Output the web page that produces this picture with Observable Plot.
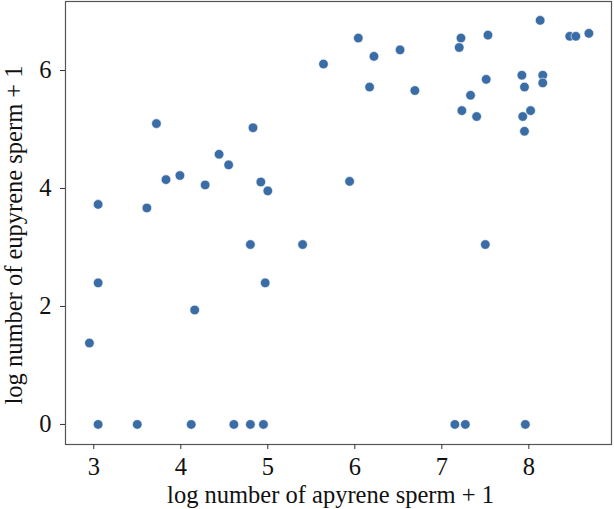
<!DOCTYPE html>
<html>
<head>
<meta charset="utf-8">
<script src="https://cdn.jsdelivr.net/npm/d3@7"></script>
<script src="https://cdn.jsdelivr.net/npm/@observablehq/plot@0.6"></script>
<style>
  html, body { margin: 0; padding: 0; background: #fff; }
</style>
</head>
<body>
<div id="chart"></div>
<script>
const apyrene = [
  5.64, 3.72, 4.83, 4.44, 4.55, 3.83, 3.99, 4.28, 4.92, 5.00, 3.05, 3.61,
  6.04, 6.22, 6.52, 7.22, 7.20, 7.53, 8.13, 8.47, 8.54, 8.69, 6.17, 6.69,
  7.51, 7.33, 7.23, 7.40, 7.92, 7.95, 8.16, 8.16, 8.02, 7.93, 7.95, 5.94,
  4.80, 5.40, 3.05, 4.97, 4.16, 2.95,
  3.05, 3.50, 4.12, 4.61, 4.80, 4.95,
  7.50, 7.15, 7.27, 7.96
];
const eupyrene = [
  6.11, 5.10, 5.03, 4.58, 4.40, 4.15, 4.22, 4.06, 4.11, 3.96, 3.73, 3.67,
  6.55, 6.24, 6.35, 6.55, 6.39, 6.60, 6.85, 6.58, 6.58, 6.63, 5.72, 5.66,
  5.85, 5.58, 5.32, 5.22, 5.92, 5.72, 5.92, 5.79, 5.32, 5.22, 4.97, 4.12,
  3.05, 3.05, 2.40, 2.40, 1.94, 1.38,
  0, 0, 0, 0, 0, 0,
  3.05, 0, 0, 0
];
const xTicks = [3, 4, 5, 6, 7, 8];
const yTicks = [0, 2, 4, 6];
const xLabel = "log number of apyrene sperm + 1";
const yLabel = "log number of eupyrene sperm + 1";

const data = apyrene.map((a, i) => ({a, e: eupyrene[i]}));
const FS = 24.5;

const chart = Plot.plot({
  width: 614,
  height: 509,
  marginLeft: 65,
  marginRight: 3,
  marginTop: 1,
  marginBottom: 65,
  style: {fontFamily: "'Liberation Serif', 'Times New Roman', serif", fontSize: FS + "px", color: "#111", background: "#fff"},
  x: {domain: [2.675, 8.95]},
  y: {domain: [-0.34, 7.17]},
  marks: [
    Plot.frame({stroke: "#555", strokeWidth: 1.2}),
    Plot.axisX({ticks: xTicks, tickFormat: d => String(d), tickSize: 5, tickPadding: 8, stroke: "#333", fontSize: FS,
      label: null}),
    Plot.axisY({ticks: yTicks, tickFormat: d => String(d), tickSize: 5, tickPadding: 9, stroke: "#333", fontSize: FS,
      label: null}),
    Plot.text([xLabel], {frameAnchor: "bottom", textAnchor: "middle", lineAnchor: "bottom", dx: -8, dy: 58, text: d => d, fontSize: FS, fill: "#111"}),
    Plot.text([yLabel], {frameAnchor: "left", textAnchor: "middle", lineAnchor: "top", rotate: -90, dx: -61, dy: 12, text: d => d, fontSize: FS, fill: "#111"}),
    Plot.dot(data, {x: "a", y: "e", r: 4.8, fill: "#3a6ca6", stroke: "#fff", strokeWidth: 0.6})
  ]
});
document.getElementById("chart").appendChild(chart);
</script>
</body>
</html>
